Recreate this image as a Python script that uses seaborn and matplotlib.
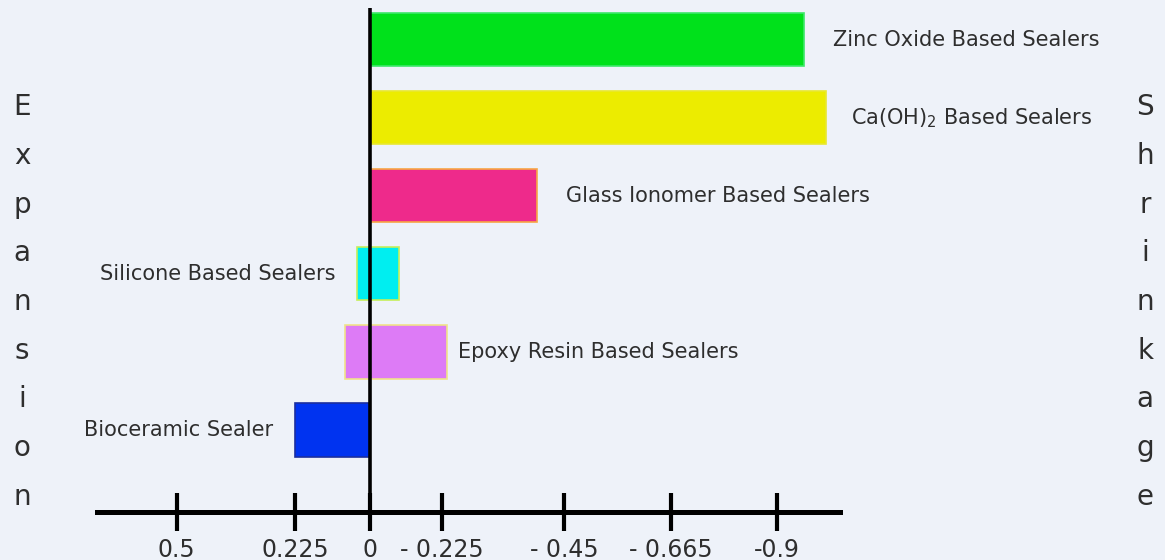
import numpy as np
import pandas as pd
import matplotlib
matplotlib.use("Agg")
import matplotlib.pyplot as plt
import seaborn as sns

# data
sealers = ["Zinc Oxide Based Sealers", "Ca(OH)$_2$ Based Sealers", "Glass Ionomer Based Sealers",
           "Silicone Based Sealers", "Epoxy Resin Based Sealers", "Bioceramic Sealer"]
shrinkage = [0.96, 1.01, 0.40, 0.09, 0.235, 0.0]
expansion = [0.0, 0.0, 0.0, 0.04, 0.075, 0.225]
bar_colors = ["#00e11b", "#ecec00", "#ee2a8b", "#00eef0", "#dd7bf6", "#0033f0"]
edge_colors = ["#3de86a", "#e8e830", "#f7a645", "#c6ef5a", "#f0e38a", "#1b2f9f"]
label_side = ["right", "right", "right", "left", "right", "left"]

tick_values = [0.5, 0.225, 0, -0.225, -0.45, -0.665, -0.9]
tick_labels = ["0.5", "0.225", "0", "- 0.225", "- 0.45", "- 0.665", "-0.9"]

# the axis is hand drawn: ticks sit at uneven spacing (pixel positions)
tick_px = [176.7, 295, 370, 441.7, 564, 670.7, 776.7]
label_pad_px = [29, 25, 29, 21, 11, 22]

BG = "#eef2f9"
TXT = "#2e2e2e"

# piecewise scale so bars line up with the uneven ticks
xs = -np.array(tick_values, dtype=float)   # shrinkage to the right
px = np.array(tick_px)
s_lo = (px[1] - px[0]) / (xs[1] - xs[0])
s_hi = (px[-1] - px[-2]) / (xs[-1] - xs[-2])
xs_ext = np.r_[xs[0] - 5, xs, xs[-1] + 5]
px_ext = np.r_[px[0] - 5 * s_lo, px, px[-1] + 5 * s_hi]


def fwd(v):
    return np.interp(np.asarray(v, dtype=float), xs_ext, px_ext)


def inv(p):
    return np.interp(np.asarray(p, dtype=float), px_ext, xs_ext)


df = pd.DataFrame({
    "sealer": sealers,
    "shrink": shrinkage,
    "expand": [-e for e in expansion],
})

sns.set_style("white")
plt.rcParams["font.family"] = ["DejaVu Sans"]
plt.rcParams["mathtext.default"] = "regular"

W, H = 1165, 560
fig = plt.figure(figsize=(W / 100, H / 100), dpi=100, facecolor=BG)
ax = fig.add_axes([97 / W, 1 - 511.7 / H, (840 - 97) / W, (511.7 - 8) / H])
ax.set_facecolor(BG)
ax.set_xscale("function", functions=(fwd, inv))

pal = dict(zip(sealers, bar_colors))
for col in ["shrink", "expand"]:
    sns.barplot(data=df, x=col, y="sealer", hue="sealer", order=sealers, hue_order=sealers,
                palette=pal, width=0.68, legend=False, saturation=1, ax=ax, linewidth=1.2)

for i, cont in enumerate(ax.containers):
    for p in cont.patches:
        p.set_edgecolor(edge_colors[i % len(sealers)])
        p.set_zorder(2)

# zero line
ax.axvline(0, color="black", lw=2.6, zorder=4, solid_capstyle="butt")

# labels next to the bars
for i, name in enumerate(sealers):
    pad = label_pad_px[i] * 0.72
    if label_side[i] == "right":
        ax.annotate(name, (shrinkage[i], i), xytext=(pad, 0), textcoords="offset points",
                    ha="left", va="center", fontsize=15, color=TXT, annotation_clip=False)
    else:
        ax.annotate(name, (-expansion[i], i), xytext=(-pad, 0), textcoords="offset points",
                    ha="right", va="center", fontsize=15, color=TXT, annotation_clip=False)

ax.set_xlim(inv(97), inv(840))
ax.set_ylim(6.046, -0.406)

ax.set_xticks(-np.array(tick_values, dtype=float))
ax.set_xticklabels(tick_labels, fontsize=17, color=TXT)
ax.tick_params(axis="x", direction="inout", length=28, width=3, color="black", pad=5, bottom=True)
ax.tick_params(axis="y", left=False, labelleft=False)
ax.set_xlabel("")
ax.set_ylabel("")

for side in ["top", "left", "right"]:
    ax.spines[side].set_visible(False)
ax.spines["bottom"].set_linewidth(3.6)
ax.spines["bottom"].set_color("black")

# side captions
fig.text(22 / W, 1 - 302 / H, "\n".join("Expansion"), ha="center", va="center",
         fontsize=20, linespacing=1.94, color=TXT)
fig.text(1145 / W, 1 - 302 / H, "\n".join("Shrinkage"), ha="center", va="center",
         fontsize=20, linespacing=1.94, color=TXT)

fig.savefig("out.png", dpi=100, facecolor=BG)
